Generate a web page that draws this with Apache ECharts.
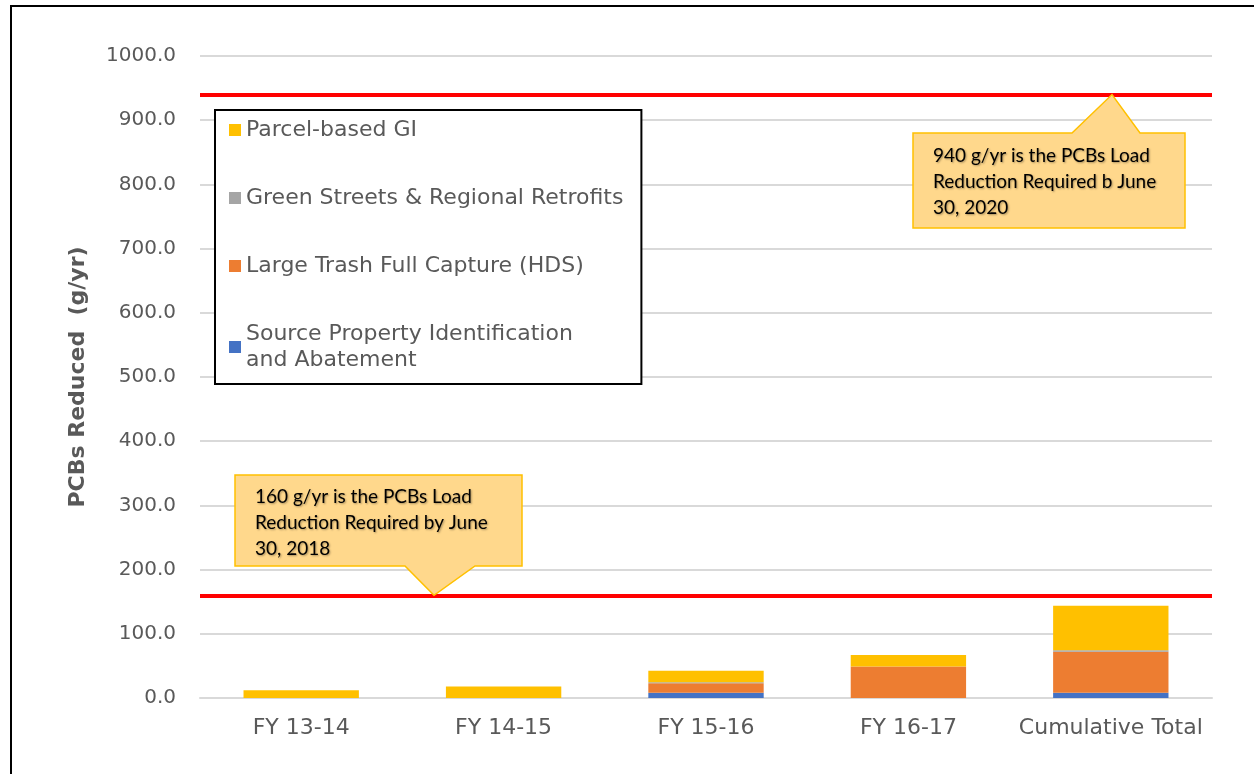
<!DOCTYPE html>
<html lang="en">
<head>
  <meta charset="UTF-8">
  <title>PCBs Reduced</title>
  <script src="https://cdn.jsdelivr.net/npm/echarts@6/dist/echarts.min.js"></script>
  <style>
    html, body { margin: 0; padding: 0; background: #fff; }
    #chart { width: 1254px; height: 774px; }
  </style>
</head>
<body>
  <div id="chart"></div>
  <script type="text/javascript">
    const categories = ['FY 13-14', 'FY 14-15', 'FY 15-16', 'FY 16-17', 'Cumulative Total'];

    // stacked from the bottom up
    const sourceProperty = [0, 0, 8, 0, 8];
    const largeTrash = [0, 0, 15, 49, 64];
    const greenStreets = [0, 0, 1.5, 0, 2.5];
    const parcelGI = [12, 18, 18, 18, 69];

    const targets = [160, 940];
    const targetNotes = [
      '160 g/yr is the PCBs Load\nReduction Required by June\n30, 2018',
      '940 g/yr is the PCBs Load\nReduction Required b June\n30, 2020'
    ];

    const gray = '#595959';
    const font = 'DejaVu Sans';

    const chart = echarts.init(document.getElementById('chart'));

    function barSeries(name, data, color) {
      return {
        name,
        type: 'bar',
        stack: 'total',
        data,
        barWidth: '57%',
        itemStyle: { color },
        emphasis: { disabled: true }
      };
    }

    const parcelSeries = barSeries('Parcel-based GI', parcelGI, '#FFC000');
    parcelSeries.markLine = {
      silent: true,
      symbol: 'none',
      label: { show: false },
      lineStyle: { color: '#FF0000', width: 4, type: 'solid' },
      data: targets.map(v => ({ yAxis: v }))
    };

    const option = {
      animation: false,
      textStyle: { fontFamily: font },
      grid: { left: 200, right: 42, top: 56, bottom: 76 },
      legend: {
        orient: 'vertical',
        left: 215,
        top: 110,
        padding: [7, 18, 11, 14],
        itemGap: 42,
        itemWidth: 12,
        itemHeight: 12,
        icon: 'rect',
        backgroundColor: '#fff',
        borderColor: '#000',
        borderWidth: 2,
        selectedMode: false,
        textStyle: { color: gray, fontSize: 22, lineHeight: 26, fontFamily: font },
        data: [
          'Parcel-based GI',
          'Green Streets & Regional Retrofits',
          'Large Trash Full Capture (HDS)',
          'Source Property Identification and Abatement'
        ],
        formatter: name => name.replace('Identification ', 'Identification\n')
      },
      xAxis: {
        type: 'category',
        data: categories,
        axisTick: { show: false },
        axisLine: { lineStyle: { color: '#d9d9d9', width: 2 } },
        axisLabel: { color: gray, fontSize: 22, margin: 19, interval: 0 }
      },
      yAxis: {
        type: 'value',
        min: 0,
        max: 1000,
        interval: 100,
        name: 'PCBs Reduced  (g/yr)',
        nameLocation: 'middle',
        nameGap: 111,
        nameTextStyle: { color: gray, fontSize: 22, fontWeight: 'bold' },
        axisLabel: { color: gray, fontSize: 20, margin: 24, formatter: v => v.toFixed(1) },
        splitLine: { lineStyle: { color: '#d9d9d9', width: 2 } }
      },
      series: [
        barSeries('Source Property Identification and Abatement', sourceProperty, '#4472C4'),
        barSeries('Large Trash Full Capture (HDS)', largeTrash, '#ED7D31'),
        barSeries('Green Streets & Regional Retrofits', greenStreets, '#A5A5A5'),
        parcelSeries
      ]
    };
    chart.setOption(option);

    // callout shapes anchored on the target lines
    const lowY = chart.convertToPixel({ yAxisIndex: 0 }, targets[0]);
    const highY = chart.convertToPixel({ yAxisIndex: 0 }, targets[1]);
    const fill = '#FFD88C';
    const stroke = '#FFC000';
    const noteStyle = {
      fill: '#000', fontSize: 19, lineHeight: 26, fontFamily: 'Lato',
      textShadowColor: 'rgba(0,0,0,0.35)', textShadowBlur: 2, textShadowOffsetX: 1, textShadowOffsetY: 1
    };

    chart.setOption({
      graphic: [
        {
          type: 'rect', z: -10, silent: true,
          shape: { x: 11, y: 6, width: 1400, height: 900 },
          style: { fill: 'none', stroke: '#000', lineWidth: 2 }
        },
        {
          type: 'polygon', z: 100, silent: true,
          shape: { points: [[235, 475], [522, 475], [522, 566], [475, 566], [434, lowY], [405, 566], [235, 566]] },
          style: { fill, stroke, lineWidth: 1.5 }
        },
        {
          type: 'text', z: 101, silent: true, x: 255, y: 484,
          style: Object.assign({ text: targetNotes[0] }, noteStyle)
        },
        {
          type: 'polygon', z: 100, silent: true,
          shape: { points: [[913, 133], [1072, 133], [1112, highY], [1140, 133], [1185, 133], [1185, 228], [913, 228]] },
          style: { fill, stroke, lineWidth: 1.5 }
        },
        {
          type: 'text', z: 101, silent: true, x: 933, y: 143,
          style: Object.assign({ text: targetNotes[1] }, noteStyle)
        }
      ]
    });
  </script>
</body>
</html>
